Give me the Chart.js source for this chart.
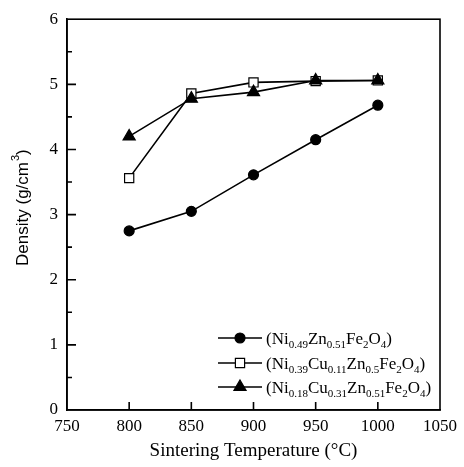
<!DOCTYPE html>
<html><head><meta charset="utf-8">
<script src="https://cdn.jsdelivr.net/npm/chart.js@4/dist/chart.umd.min.js"></script>
<style>html,body{margin:0;padding:0;background:#fff}#wrap{width:464px;height:467px;position:relative}</style>
</head><body><div id="wrap"><canvas id="c" width="464" height="467"></canvas></div>
<script>
const temperatures = [800, 850, 900, 950, 1000];
const densityNiZn = [2.75, 3.05, 3.61, 4.15, 4.68];
const densityNiCuZn011 = [3.56, 4.86, 5.03, 5.05, 5.06];
const densityNiCuZn031 = [4.20, 4.78, 4.88, 5.06, 5.06];
const xTickValues = [750, 800, 850, 900, 950, 1000, 1050];
const yTickValues = [0, 1, 2, 3, 4, 5, 6];
const xTitle = "Sintering Temperature (\u00B0C)";
// y title parts: [text, isSuperscript]
const yTitleParts = [["Density (g/cm",0],["3",1],[")",0]];
// legend label parts: [text, isSubscript]
const labelNiZn = [["(Ni",0],["0.49",1],["Zn",0],["0.51",1],["Fe",0],["2",1],["O",0],["4",1],[")",0]];
const labelNiCuZn011 = [["(Ni",0],["0.39",1],["Cu",0],["0.11",1],["Zn",0],["0.5",1],["Fe",0],["2",1],["O",0],["4",1],[")",0]];
const labelNiCuZn031 = [["(Ni",0],["0.18",1],["Cu",0],["0.31",1],["Zn",0],["0.51",1],["Fe",0],["2",1],["O",0],["4",1],[")",0]];

const SERIF = '"Liberation Serif","Times New Roman",serif';
const SANS = '"Liberation Sans",Arial,sans-serif';
const toPts = (ys) => temperatures.map((t, i) => ({x: t, y: ys[i]}));

const datasets = [
  {label: 'NiZn', parts: labelNiZn, data: toPts(densityNiZn), pointStyle: 'circle', pointRadius: 5,
   backgroundColor: '#000', borderColor: '#000', pointBorderColor: '#000', pointBackgroundColor: '#000', order: 2},
  {label: 'NiCuZn011', parts: labelNiCuZn011, data: toPts(densityNiCuZn011), pointStyle: 'rect', pointRadius: 6.5,
   backgroundColor: '#fff', borderColor: '#000', pointBorderColor: '#000', pointBackgroundColor: '#fff', order: 1},
  {label: 'NiCuZn031', parts: labelNiCuZn031, data: toPts(densityNiCuZn031), pointStyle: 'triangle', pointRadius: 7,
   backgroundColor: '#000', borderColor: '#000', pointBorderColor: '#000', pointBackgroundColor: '#000', order: 0}
].map(d => Object.assign({borderWidth: 1.6, pointBorderWidth: 1.2, tension: 0, fill: false}, d));

const frameAndLegend = {
  id: 'frameAndLegend',
  afterDraw(chart) {
    const ctx = chart.ctx, ca = chart.chartArea;
    const xs = chart.scales.x, ys = chart.scales.y;
    ctx.save();
    ctx.strokeStyle = '#000';
    ctx.lineWidth = 1.6;
    ctx.strokeRect(ca.left, ca.top, ca.right - ca.left, ca.bottom - ca.top);
    ctx.beginPath();
    yTickValues.forEach(v => {
      if (v > ys.min && v < ys.max) {
        const p = ys.getPixelForValue(v);
        ctx.moveTo(ca.left, p); ctx.lineTo(ca.left + 9, p);
      }
      const m = v + 0.5;
      if (m < ys.max) {
        const q = ys.getPixelForValue(m);
        ctx.moveTo(ca.left, q); ctx.lineTo(ca.left + 5, q);
      }
    });
    xTickValues.forEach(v => {
      if (v > xs.min && v < xs.max) {
        const p = xs.getPixelForValue(v);
        ctx.moveTo(p, ca.bottom); ctx.lineTo(p, ca.bottom - 8);
      }
    });
    ctx.stroke();

    // y-axis title with superscript
    ctx.save();
    ctx.fillStyle = '#000';
    ctx.textBaseline = 'alphabetic';
    ctx.textAlign = 'left';
    let total = 0;
    yTitleParts.forEach(([t, sup]) => {
      ctx.font = sup ? '11px ' + SANS : '17px ' + SANS;
      total += ctx.measureText(t).width + (sup ? 1 : 0);
    });
    const cy = (ca.top + ca.bottom) / 2 - 7;
    ctx.translate(28, cy);
    ctx.rotate(-Math.PI / 2);
    let px = -total / 2;
    yTitleParts.forEach(([t, sup]) => {
      ctx.font = sup ? '11px ' + SANS : '17px ' + SANS;
      ctx.fillText(t, px + (sup ? 1 : 0), sup ? -9 : 0);
      px += ctx.measureText(t).width + (sup ? 1 : 0);
    });
    ctx.restore();

    // legend
    const rowY = [338, 363, 387];
    const lx0 = 218, lx1 = 262, mx = 240, tx = 266;
    chart.data.datasets.forEach((ds, i) => {
      const y = rowY[i];
      ctx.beginPath();
      ctx.lineWidth = ds.borderWidth;
      ctx.strokeStyle = '#000';
      ctx.moveTo(lx0, y); ctx.lineTo(lx1, y); ctx.stroke();
      ctx.fillStyle = ds.pointBackgroundColor;
      ctx.strokeStyle = ds.pointBorderColor;
      ctx.lineWidth = ds.pointBorderWidth;
      Chart.helpers.drawPoint(ctx, {pointStyle: ds.pointStyle, radius: ds.pointRadius, borderWidth: ds.pointBorderWidth, rotation: 0}, mx, y);
      let x = tx;
      ctx.fillStyle = '#000';
      ctx.textBaseline = 'alphabetic';
      ctx.textAlign = 'left';
      ds.parts.forEach(([t, sub]) => {
        ctx.font = sub ? '11px ' + SERIF : '17px ' + SERIF;
        ctx.fillText(t, x, sub ? y + 10 : y + 6);
        x += ctx.measureText(t).width;
      });
    });
    ctx.restore();
  }
};

new Chart(document.getElementById('c'), {
  type: 'line',
  data: {datasets},
  options: {
    responsive: false,
    animation: false,
    devicePixelRatio: 1,
    layout: {padding: {top: 15, right: 24, left: 0, bottom: 0}},
    plugins: {legend: {display: false}, tooltip: {enabled: false}},
    scales: {
      x: {
        type: 'linear', min: 750, max: 1050,
        afterBuildTicks: s => { s.ticks = xTickValues.map(v => ({value: v})); },
        afterFit: s => { s.height = 57; },
        ticks: {color: '#000', font: {family: SERIF, size: 17}, padding: 6, maxRotation: 0, autoSkip: false,
                callback: v => String(v)},
        grid: {display: false, drawTicks: false, tickLength: 0},
        border: {display: true, color: '#000', width: 1.6},
        title: {display: true, text: xTitle, color: '#000', font: {family: SERIF, size: 19}, padding: {top: 0, bottom: 5}}
      },
      y: {
        type: 'linear', min: 0, max: 6,
        afterBuildTicks: s => { s.ticks = yTickValues.map(v => ({value: v})); },
        afterFit: s => { s.width = 67; },
        ticks: {color: '#000', font: {family: SERIF, size: 17}, padding: 9, autoSkip: false,
                callback: v => String(v)},
        grid: {display: false, drawTicks: false, tickLength: 0},
        border: {display: true, color: '#000', width: 1.6},
        title: {display: false}
      }
    }
  },
  plugins: [frameAndLegend]
});
</script>
</body></html>
